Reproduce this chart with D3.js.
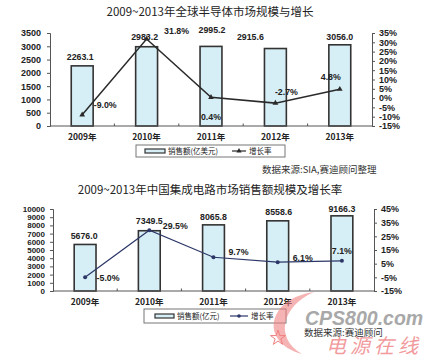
<!DOCTYPE html>
<html><head><meta charset="utf-8">
<script src="https://cdn.jsdelivr.net/npm/d3@7"></script>
<style>
html,body{margin:0;padding:0;background:#fff;}
svg{display:block;}
</style></head>
<body>
<script>
// ---------- data ----------
const years = ["2009年", "2010年", "2011年", "2012年", "2013年"];
const globalSales = [2263.1, 2983.2, 2995.2, 2915.6, 3056.0];
const globalGrowth = [-9.0, 31.8, 0.4, -2.7, 4.8];
const chinaSales = [5676.0, 7349.5, 8065.8, 8558.6, 9166.3];
const chinaGrowth = [-5.0, 29.5, 9.7, 6.1, 7.1];
const globalLeftTicks = [0, 500, 1000, 1500, 2000, 2500, 3000, 3500];
const globalRightTicks = [-15, -10, -5, 0, 5, 10, 15, 20, 25, 30, 35];
const chinaLeftTicks = [0, 1000, 2000, 3000, 4000, 5000, 6000, 7000, 8000, 9000, 10000];
const chinaRightTicks = [-15, -5, 5, 15, 25, 35, 45];
const title1 = "2009~2013年全球半导体市场规模与增长";
const title2 = "2009~2013年中国集成电路市场销售额规模及增长率";
const legend1 = ["销售额(亿美元)", "增长率"];
const legend2 = ["销售额(亿元)", "增长率"];
const source1 = "数据来源:SIA,赛迪顾问整理";
const source2 = "数据来源:赛迪顾问";

// label nudges (layout only)
const valOff1 = [[-2,-9],[-2,-10],[1,-16],[-25,-12],[0,-8]];
const pctOff1 = [[23,-10],[30,-8],[0,20],[11,-11],[-9,-12]];
const valOff2 = [[-1,-8.5],[0,-10],[0,-8],[1,-9],[0,-7]];
const pctOff2 = [[23,1],[26,-4],[25,-5],[25,-4],[0,-10]];

const W = 433, H = 359;
const svg = d3.select("body").append("svg").attr("width", W).attr("height", H);
const NUM = "'Liberation Sans', Arial, sans-serif";
const CJK = "'Noto Sans CJK SC', 'Liberation Sans', sans-serif";

function drawChart(o) {
  const g = svg.append("g");
  const x = d3.scaleBand().domain(years).range([o.x0, o.x1]).paddingInner(0.66).paddingOuter(0.33);
  const yL = d3.scaleLinear().domain(o.leftDomain).range([o.yb, o.yt]);
  const yR = d3.scaleLinear().domain(o.rightDomain).range([o.yb, o.yt]);
  const cx = d => x(d) + x.bandwidth() / 2;

  g.append("text").attr("x", 210).attr("y", o.titleY).attr("text-anchor", "middle")
    .attr("font-family", CJK).attr("font-size", 11.5).attr("fill", "#222").text(o.title);

  const aL = g.append("g").attr("transform", `translate(${o.x0},0)`)
    .call(d3.axisLeft(yL).tickValues(o.leftTicks).tickSize(3).tickPadding(o.lPad).tickFormat(d3.format("d")));
  const aR = g.append("g").attr("transform", `translate(${o.x1},0)`)
    .call(d3.axisRight(yR).tickValues(o.rightTicks).tickSize(3).tickPadding(4).tickFormat(d => d + "%"));
  [aL, aR].forEach(a => {
    a.select(".domain").attr("stroke", "#555").attr("stroke-width", 1);
    a.selectAll(".tick line").attr("stroke", "#555");
    a.selectAll("text").attr("font-family", NUM).attr("font-weight", "bold").attr("fill", "#222");
  });
  aL.selectAll("text").attr("font-size", o.lFont);
  aR.selectAll("text").attr("font-size", 9);

  g.selectAll(".bar").data(o.sales).join("rect")
    .attr("x", (d, i) => x(years[i])).attr("width", x.bandwidth())
    .attr("y", d => yL(d)).attr("height", d => yL(0) - yL(d))
    .attr("fill", "#d6eef5").attr("stroke", "#333").attr("stroke-width", 1.6);

  g.append("line").attr("x1", o.x0).attr("x2", o.x1).attr("y1", o.yb).attr("y2", o.yb)
    .attr("stroke", "#555").attr("stroke-width", 1);
  g.selectAll(".ct").data(years.slice(1)).join("line")
    .attr("x1", d => x(d) - x.step() * 0.33).attr("x2", d => x(d) - x.step() * 0.33)
    .attr("y1", o.yb).attr("y2", o.yb - 2.5).attr("stroke", "#555");

  g.selectAll(".cl").data(years).join("text")
    .attr("x", d => cx(d)).attr("y", o.catY).attr("text-anchor", "middle")
    .attr("font-family", CJK).attr("font-weight", "bold").attr("font-size", 8.5).attr("fill", "#222").text(d => d);

  g.selectAll(".vl").data(o.sales).join("text")
    .attr("x", (d, i) => cx(years[i]) + o.valOff[i][0])
    .attr("y", (d, i) => yL(d) + o.valOff[i][1]).attr("dy", "0.35em")
    .attr("text-anchor", "middle").attr("font-family", NUM).attr("font-weight", "bold")
    .attr("font-size", 8.8).attr("fill", "#222").text(d => d.toFixed(1));

  const line = d3.line().x((d, i) => cx(years[i])).y(d => yR(d));
  g.append("path").datum(o.growth).attr("d", line).attr("fill", "none")
    .attr("stroke", o.lineColor).attr("stroke-width", o.lineW);
  if (o.marker === "tri") {
    g.selectAll(".mk").data(o.growth).join("path")
      .attr("transform", (d, i) => `translate(${cx(years[i])},${yR(d)})`)
      .attr("d", d3.symbol(d3.symbolTriangle, 14)).attr("fill", o.lineColor);
  } else {
    g.selectAll(".mk").data(o.growth).join("circle")
      .attr("cx", (d, i) => cx(years[i])).attr("cy", d => yR(d)).attr("r", 2)
      .attr("fill", o.lineColor);
  }
  g.selectAll(".pl").data(o.growth).join("text")
    .attr("x", (d, i) => cx(years[i]) + o.pctOff[i][0])
    .attr("y", (d, i) => yR(d) + o.pctOff[i][1]).attr("dy", "0.35em")
    .attr("text-anchor", "middle").attr("font-family", NUM).attr("font-weight", "bold")
    .attr("font-size", 8.8).attr("fill", "#222").text(d => d.toFixed(1) + "%");

  const L = o.legend;
  g.append("rect").attr("x", L.x).attr("y", L.y).attr("width", L.w).attr("height", L.h)
    .attr("fill", "#fff").attr("stroke", "#777").attr("stroke-width", 1);
  const my = L.y + L.h / 2;
  g.append("rect").attr("x", L.bx).attr("y", my - 2).attr("width", L.bw).attr("height", 4)
    .attr("fill", "#d6eef5").attr("stroke", "#333").attr("stroke-width", 1.2);
  g.append("text").attr("x", L.bx + L.bw + 3).attr("y", my).attr("dy", "0.35em")
    .attr("font-family", CJK).attr("font-size", 7.5).attr("fill", "#222").text(L.labels[0]);
  g.append("line").attr("x1", L.lx).attr("x2", L.lx + L.lw).attr("y1", my).attr("y2", my)
    .attr("stroke", o.lineColor).attr("stroke-width", 1.2);
  if (o.marker === "tri") {
    g.append("path").attr("transform", `translate(${L.lx + L.lw / 2},${my})`)
      .attr("d", d3.symbol(d3.symbolTriangle, 12)).attr("fill", o.lineColor);
  } else {
    g.append("circle").attr("cx", L.lx + L.lw / 2).attr("cy", my).attr("r", 1.8).attr("fill", o.lineColor);
  }
  g.append("text").attr("x", L.lx + L.lw + 3).attr("y", my).attr("dy", "0.35em")
    .attr("font-family", CJK).attr("font-size", 7.5).attr("fill", "#222").text(L.labels[1]);
}

drawChart({
  title: title1, titleY: 16, x0: 50, x1: 372, yb: 126, yt: 33,
  leftDomain: [0, 3500], rightDomain: [-15, 35],
  leftTicks: globalLeftTicks, rightTicks: globalRightTicks, lPad: 6, lFont: 9,
  sales: globalSales, growth: globalGrowth, valOff: valOff1, pctOff: pctOff1,
  catY: 140, lineColor: "#2a2a2a", lineW: 1.5, marker: "tri",
  legend: { x: 136, y: 145, w: 149, h: 12, bx: 145, bw: 20, lx: 232, lw: 14, labels: legend1 }
});
drawChart({
  title: title2, titleY: 194, x0: 53, x1: 374, yb: 291, yt: 209,
  leftDomain: [0, 10000], rightDomain: [-15, 45],
  leftTicks: chinaLeftTicks, rightTicks: chinaRightTicks, lPad: 5, lFont: 8,
  sales: chinaSales, growth: chinaGrowth, valOff: valOff2, pctOff: pctOff2,
  catY: 305, lineColor: "#2c3768", lineW: 1.2, marker: "dot",
  legend: { x: 144, y: 309, w: 142, h: 14, bx: 155, bw: 19, lx: 230, lw: 18, labels: legend2 }
});

svg.append("text").attr("x", 262).attr("y", 173).attr("font-family", CJK).attr("font-size", 9.5)
  .attr("fill", "#333").text(source1);

// watermark
const wm = svg.append("g");
wm.append("path").attr("d", "M314,292 C268,298 258,342 302,354 C274,338 282,306 314,292 Z")
  .attr("fill", "#f08080").attr("opacity", 0.6);
wm.append("path").attr("d", d3.symbol(d3.symbolStar, 70)).attr("transform", "translate(278,338)")
  .attr("fill", "none").attr("stroke", "#f08080").attr("stroke-width", 1);
wm.append("text").attr("x", 305).attr("y", 325).attr("font-family", NUM).attr("font-weight", "bold")
  .attr("font-style", "italic").attr("font-size", 19.5).attr("fill", "#9a9a9a").attr("opacity", 0.85).text("CPS800.com");
svg.append("text").attr("x", 304).attr("y", 336).attr("font-family", CJK).attr("font-size", 9.5)
  .attr("fill", "#333").text(source2);
wm.append("text").attr("x", 326).attr("y", 353).attr("font-family", CJK).attr("font-style", "italic")
  .attr("font-size", 20).attr("letter-spacing", 4).attr("fill", "#e8484d").attr("opacity", 0.55).text("电源在线");
</script>
</body></html>
